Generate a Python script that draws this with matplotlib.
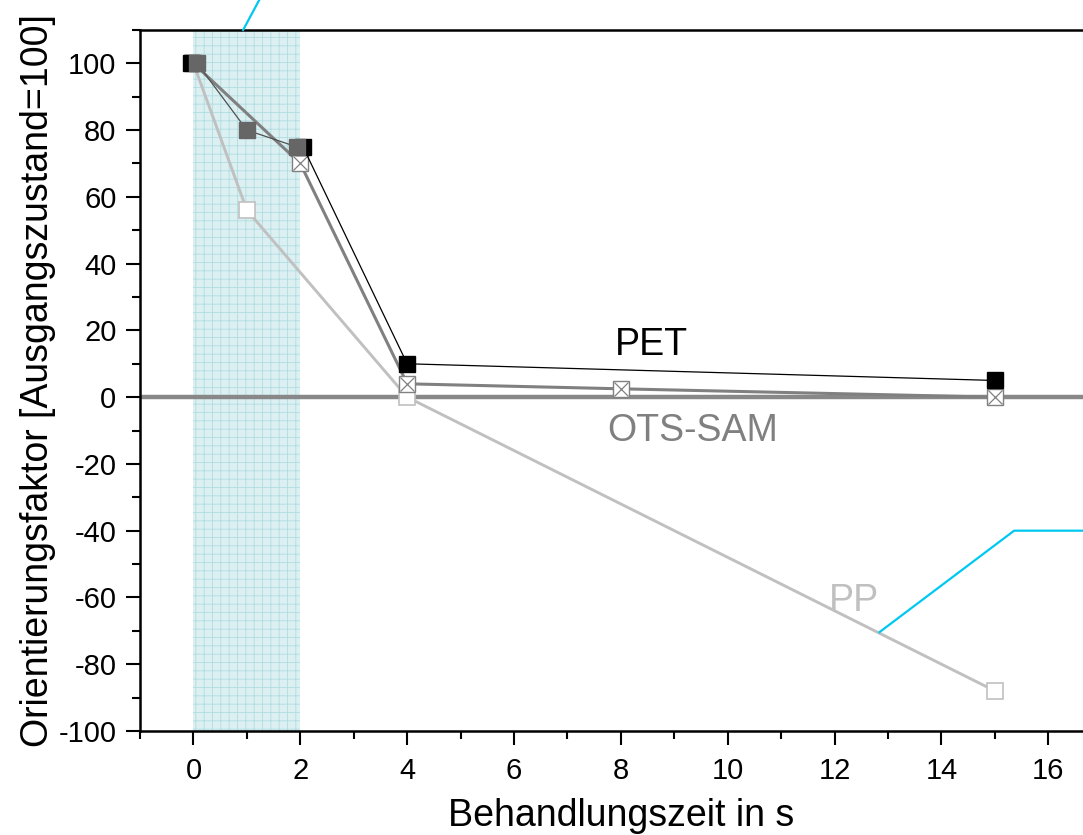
import numpy as np
import matplotlib.pyplot as plt
from matplotlib.ticker import MultipleLocator

plt.rcParams['font.family'] = ['Liberation Sans', 'DejaVu Sans']
plt.rcParams['hatch.linewidth'] = 0.6
plt.rcParams['axes.unicode_minus'] = False

# series
pet_x = [-0.05, 2.05, 4, 15]
pet_y = [100, 75, 10, 5]

dark_x = [0.07, 1.0, 1.93]
dark_y = [100, 80, 75]

ots_x = [0, 2, 4, 8, 15]
ots_y = [100, 70, 4, 2.5, 0]

pp_x = [0, 1, 4, 15]
pp_y = [100, 56, 0, -88]

# cyan annotation lines
cyan1_x = [0.93, 1.6]
cyan1_y = [110, 130]
cyan2_x = [12.84, 15.36, 17]
cyan2_y = [-70.4, -40, -40]

fig = plt.figure(figsize=(10.83, 8.35), dpi=100)
ax = fig.add_axes([0.1293, 0.1246, 0.888, 0.8395])

ax.axvspan(0, 2, facecolor='#dcf0f2', edgecolor='#b0dde2', hatch='++', lw=0, zorder=0)
ax.axhline(0, color='#888888', lw=3.2, zorder=1)

ax.plot(pp_x, pp_y, color='#c0c0c0', lw=2.1, zorder=2)
ax.plot(pp_x, pp_y, ls='none', marker='s', ms=11, mfc='white', mec='#c0c0c0', mew=1.2, zorder=3)

ax.plot(ots_x, ots_y, color='#808080', lw=2.2, zorder=4)
ax.plot(ots_x, ots_y, ls='none', marker='s', ms=11.5, mfc='white', mec='#808080', mew=1.0, zorder=5)
ax.plot(ots_x, ots_y, ls='none', marker='x', ms=10.5, mec='#808080', mew=0.9, zorder=5)

ax.plot(pet_x[1:], pet_y[1:], color='black', lw=0.9, zorder=6)
ax.plot(pet_x, pet_y, ls='none', marker='s', ms=12, color='black', zorder=7)

ax.plot(dark_x, dark_y, color='#505050', lw=0.9, zorder=8)
ax.plot(dark_x, dark_y, ls='none', marker='s', ms=12, color='#666666', zorder=9)

ax.plot(cyan1_x, cyan1_y, color='#00c8f0', lw=1.6, clip_on=False, zorder=10)
ax.plot(cyan2_x, cyan2_y, color='#00c8f0', lw=1.6, zorder=10)

ax.text(8.58, 15.5, 'PET', color='black', fontsize=27, ha='center', va='center')
ax.text(9.35, -10, 'OTS-SAM', color='#808080', fontsize=27, ha='center', va='center')
ax.text(12.37, -61, 'PP', color='#c0c0c0', fontsize=27, ha='center', va='center')

ax.set_xlim(-1, 17)
ax.set_ylim(-100, 110)
ax.xaxis.set_major_locator(MultipleLocator(2))
ax.xaxis.set_minor_locator(MultipleLocator(1))
ax.yaxis.set_major_locator(MultipleLocator(20))
ax.yaxis.set_minor_locator(MultipleLocator(10))
ax.set_xticks(np.arange(0, 17, 2))
ax.tick_params(which='major', direction='out', length=10, width=1.5, labelsize=21, pad=7)
ax.tick_params(axis='x', which='major', pad=9)
ax.tick_params(which='minor', direction='out', length=6, width=1.5)
ax.tick_params(top=False, right=False, which='both')
for s in ax.spines.values():
    s.set_linewidth(1.8)

ax.set_xlabel('Behandlungszeit in s', fontsize=27, labelpad=9)
ax.set_ylabel('Orientierungsfaktor [Ausgangszustand=100]', fontsize=27, labelpad=2)

fig.savefig('out.png', dpi=100)
